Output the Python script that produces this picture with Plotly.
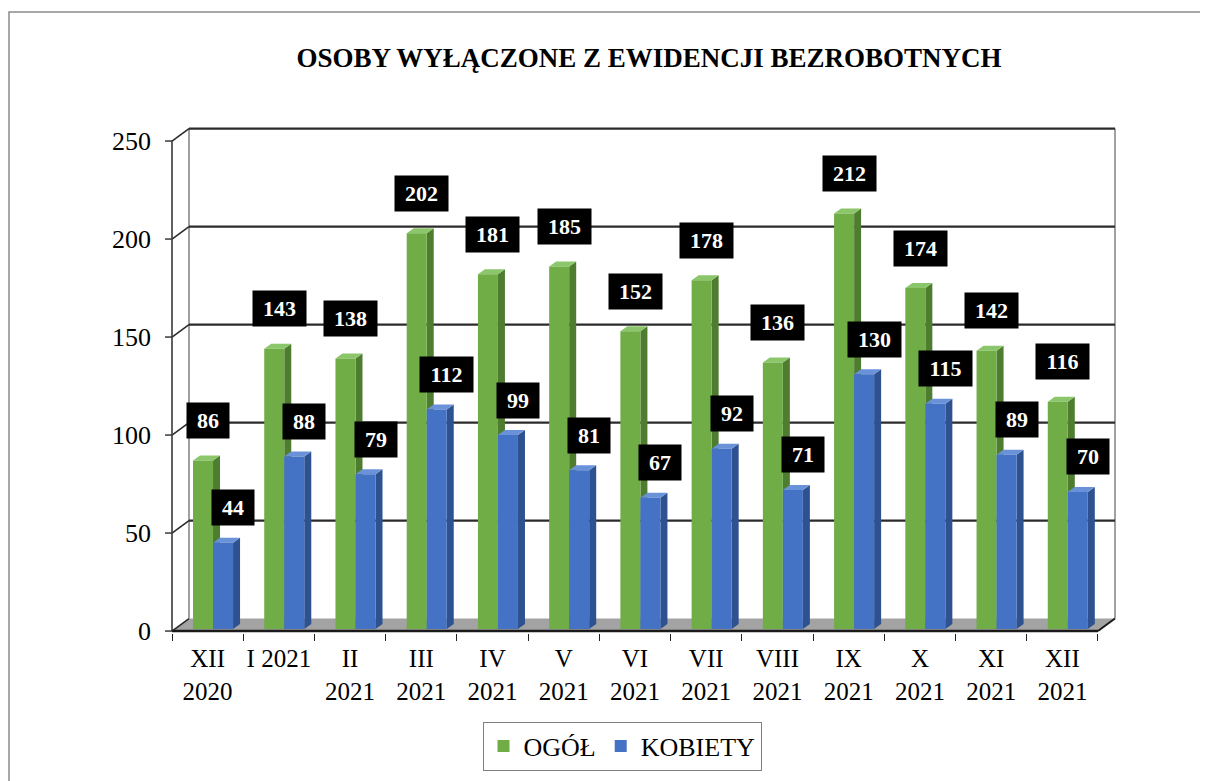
import plotly.graph_objects as go

# ---------------- data ----------------
categories = ["XII<br>2020", "I 2021", "II<br>2021", "III<br>2021", "IV<br>2021",
              "V<br>2021", "VI<br>2021", "VII<br>2021", "VIII<br>2021", "IX<br>2021",
              "X<br>2021", "XI<br>2021", "XII<br>2021"]
ogol = [86, 143, 138, 202, 181, 185, 152, 178, 136, 212, 174, 142, 116]
kobiety = [44, 88, 79, 112, 99, 81, 67, 92, 71, 130, 115, 89, 70]
y_ticks = [0, 50, 100, 150, 200, 250]
series_names = ["OGÓŁ", "KOBIETY"]
title_text = "OSOBY WYŁĄCZONE Z EWIDENCJI BEZROBOTNYCH"

# ---------------- geometry / style ----------------
FONT = "Liberation Serif"
W_PX, H_PX = 1208, 781
PAGE_OFF = 8         # page body margin
L, T = 163 - PAGE_OFF, 126 - PAGE_OFF
PXX = 71.23          # px per category
PXY = 1.96           # px per value unit
plot_w, plot_h = 956, 507
R = W_PX - L - plot_w
B = H_PX - T - plot_h
x_lo = -0.5 - 9 / PXX
x_range = [x_lo, x_lo + plot_w / PXX]
y_range = [-1, -1 + plot_h / PXY]

def px_x(page_x):
    return (page_x - PAGE_OFF - L) / plot_w

def px_y(page_y):
    return (plot_h - (page_y - PAGE_OFF - T)) / plot_h

DX = 17 / PXX        # depth of the 3D box
DY = 12.5 / PXY
FDX = 7 / PXX        # depth of each bar
FDY = 5 / PXY
BASE = 1.0
BW = 0.281
offsets = [-0.205, 0.076]
front_cols = ["#70AD47", "#4472C4"]
side_cols = ["#4E7D30", "#2E5290"]
top_cols = ["#8CC66A", "#6A92D8"]
label_xshift = [5, 10]
label_yshift = [40, 35]

n = len(categories)
xl, xr = -0.5, n - 0.5
shapes = []

def line(x0, y0, x1, y1, color, width, layer="below"):
    shapes.append(dict(type="line", xref="x", yref="y", x0=x0, y0=y0, x1=x1, y1=y1,
                       line=dict(color=color, width=width), layer=layer))

def poly(pts, fill, layer="below"):
    p = "M " + " L ".join(f"{a:.4f},{b:.4f}" for a, b in pts) + " Z"
    shapes.append(dict(type="path", xref="x", yref="y", path=p, fillcolor=fill,
                       line=dict(width=0), layer=layer))

top_v = max(y_ticks)
# floor
poly([(xl, 0), (xr, 0), (xr + DX, DY), (xl + DX, DY)], "#A3A3A3")
# back wall vertical edges
line(xl + DX, DY, xl + DX, top_v + DY, "#A0A0A0", 2)
line(xr + DX, DY, xr + DX, top_v + DY, "#A0A0A0", 2)
# gridlines on back & left walls
for v in y_ticks:
    if v > 0:
        line(xl + DX, v + DY, xr + DX, v + DY, "#2b2b2b", 2.2)
    line(xl, v, xl + DX, v + DY, "#2b2b2b", 1.6)
    line(xl - 0.098, v, xl, v, "#2b2b2b", 1.4)
# front left axis
line(xl, 0, xl, top_v, "#3a3a3a", 1.6)
# floor edges
line(xl, 0, xr, 0, "#1a1a1a", 2.5)
line(xr, 0, xr + DX, DY, "#1a1a1a", 2)

# bar side and top faces
for s, vals in enumerate([ogol, kobiety]):
    for i, v in enumerate(vals):
        x0 = i + offsets[s]
        x1 = x0 + BW
        y1 = BASE + v
        poly([(x1, BASE), (x1 + FDX, BASE + FDY), (x1 + FDX, y1 + FDY), (x1, y1)], side_cols[s])
        poly([(x0, y1), (x0 + FDX, y1 + FDY), (x1 + FDX, y1 + FDY), (x1, y1)], top_cols[s])

fig = go.Figure()
for s, vals in enumerate([ogol, kobiety]):
    fig.add_trace(go.Bar(
        x=categories, y=vals, base=BASE, name=series_names[s],
        offset=offsets[s], width=BW,
        marker=dict(color=front_cols[s], line=dict(width=0)),
        hoverinfo="skip",
    ))

annotations = []
for s, vals in enumerate([ogol, kobiety]):
    for i, v in enumerate(vals):
        txt = str(v)
        annotations.append(dict(
            x=i + offsets[s] + BW / 2, y=BASE + v, xref="x", yref="y",
            text=txt, showarrow=False,
            xshift=label_xshift[s], yshift=label_yshift[s],
            yanchor="middle", xanchor="center",
            font=dict(family=FONT, size=22, color="white", weight="bold"),
            bgcolor="black", borderpad=5, width=11 * len(txt) + 10,
        ))

# outer frame
shapes.append(dict(type="rect", xref="paper", yref="paper",
                   x0=px_x(9), x1=px_x(1206), y0=px_y(800), y1=px_y(12),
                   line=dict(color="#8a8a8a", width=1.5), layer="below"))

fig.update_layout(
    width=W_PX, height=H_PX,
    font=dict(family=FONT, color="black"),
    margin=dict(l=L, r=R, t=T, b=B, autoexpand=False),
    paper_bgcolor="white", plot_bgcolor="white",
    barmode="overlay",
    title=dict(text=title_text, x=px_x(649), xref="paper", xanchor="center",
               y=1 - (58 - PAGE_OFF) / H_PX, yref="container", yanchor="middle",
               font=dict(family=FONT, size=27, color="black", weight="bold")),
    xaxis=dict(type="category", range=x_range, tickson="boundaries", tickangle=0,
               ticks="outside", ticklen=7, tickcolor="#222", tickwidth=1.4,
               ticklabelstandoff=8,
               showgrid=False, showline=False, zeroline=False,
               tickfont=dict(family=FONT, size=25, color="black")),
    yaxis=dict(range=y_range, tickmode="array", tickvals=y_ticks, ticks="",
               showgrid=False, showline=False, zeroline=False,
               ticklabelstandoff=11,
               tickfont=dict(family=FONT, size=26, color="black")),
    legend=dict(orientation="h", x=px_x(622), xanchor="center",
                y=px_y(746), yanchor="middle",
                bordercolor="#808080", borderwidth=1, bgcolor="white",
                font=dict(family=FONT, size=26, color="black")),
    shapes=shapes, annotations=annotations, showlegend=True,
)

fig.write_html("out.html")
